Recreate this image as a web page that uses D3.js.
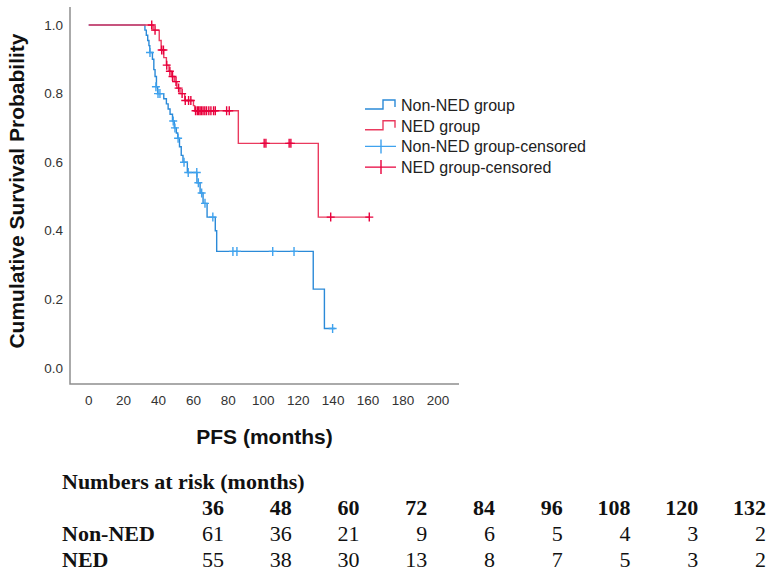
<!DOCTYPE html>
<html>
<head>
<meta charset="utf-8">
<script src="https://cdn.jsdelivr.net/npm/d3@7"></script>
<style>
  body { margin: 0; background: #fff; }
  svg { display: block; }
  .tick-label { font-family: "Liberation Sans", Arial, sans-serif; font-size: 13.5px; fill: #333; }
  .axis-title { font-family: "Liberation Sans", Arial, sans-serif; font-size: 21px; font-weight: bold; fill: #111; }
  .legend-text { font-family: "Liberation Sans", Arial, sans-serif; font-size: 16px; fill: #222; }
  .risk { font-family: "Liberation Serif", "Times New Roman", serif; font-size: 22px; fill: #111; }
  .risk-bold { font-weight: bold; }
</style>
</head>
<body>
<script>
// survival steps (time in months, survival after the drop)
var nonNedTimes = [0, 32.2, 33.0, 33.8, 34.5, 35.0, 36.5, 37.3, 38.0, 38.8, 39.5, 43.0, 44.5, 45.5, 46.6, 48.0, 49.0, 50.2, 51.0, 52.0, 53.0, 54.0, 56.5, 62.0, 63.8, 65.5, 67.8, 72.5, 73.3, 128.6, 135.0];
var nonNedSurv  = [1.0, 0.985, 0.97, 0.955, 0.94, 0.92, 0.90, 0.87, 0.85, 0.82, 0.80, 0.785, 0.77, 0.755, 0.74, 0.72, 0.70, 0.685, 0.67, 0.645, 0.62, 0.60, 0.57, 0.54, 0.51, 0.48, 0.44, 0.40, 0.34, 0.23, 0.115];
var nonNedEnd = 141;

var nedTimes = [0, 36.9, 40.4, 41.5, 43.0, 44.5, 46.0, 47.5, 49.0, 50.5, 52.3, 55.0, 60.0, 60.7, 85.7, 131.5];
var nedSurv  = [1.0, 0.985, 0.955, 0.927, 0.905, 0.883, 0.865, 0.85, 0.835, 0.816, 0.80, 0.78, 0.765, 0.75, 0.655, 0.44];
var nedEnd = 160.7;

// censored observations
var nonNedCensorTimes = [35.1, 38.5, 39.7, 40.8, 48.4, 49.4, 51.2, 54.6, 57.0, 61.9, 62.8, 64.7, 66.6, 71.1, 82.6, 84.9, 105.4, 117.6, 139.7];
var nonNedCensorSurv  = [0.92, 0.82, 0.80, 0.80, 0.72, 0.70, 0.67, 0.60, 0.57, 0.57, 0.54, 0.51, 0.48, 0.44, 0.34, 0.34, 0.34, 0.34, 0.115];

var nedCensorTimes = [36.1, 38.0, 41.8, 42.8, 44.7, 46.5, 48.0, 50.0, 51.5, 53.5, 55.3, 57.2, 58.5, 61.2, 62.2, 63.0, 63.8, 64.6, 65.5, 66.5, 67.5, 68.8, 70.0, 71.5, 72.5, 79.0, 80.5, 100.5, 101.5, 114.8, 115.8, 138.6, 160.7];
var nedCensorSurv  = [1.0, 0.985, 0.927, 0.927, 0.883, 0.865, 0.85, 0.835, 0.816, 0.80, 0.78, 0.78, 0.78, 0.75, 0.75, 0.75, 0.75, 0.75, 0.75, 0.75, 0.75, 0.75, 0.75, 0.75, 0.75, 0.75, 0.75, 0.655, 0.655, 0.655, 0.655, 0.44, 0.44];

var xTicks = [0, 20, 40, 60, 80, 100, 120, 140, 160, 180, 200];
var yTicks = [0.0, 0.2, 0.4, 0.6, 0.8, 1.0];

var legendLabels = ["Non-NED group", "NED group", "Non-NED group-censored", "NED group-censored"];

// numbers at risk table
var riskMonths = [36, 48, 60, 72, 84, 96, 108, 120, 132];
var riskNonNed = [61, 36, 21, 9, 6, 5, 4, 3, 2];
var riskNed    = [55, 38, 30, 13, 8, 7, 5, 3, 2];

(function (){

    var width = 774, height = 581;
    var blueLine = "#2b8ad8", blueCensor = "#3fa2ee",
        redLine = "#ea3a5e", redCensor = "#e8003c";

    var svg = d3.select("body")
        .append("svg")
        .attr("width", width)
        .attr("height", height);

    var x = d3.scaleLinear().domain([0, 200]).range([88.7, 437.9]);
    var y = d3.scaleLinear().domain([0, 1]).range([368, 25]);

    //axis lines (no tick marks in the original)
    svg.append("path")
        .attr("d", "M70,7 V384 H459")
        .attr("fill", "none")
        .attr("stroke", "#8e8e8e")
        .attr("stroke-width", 1.5);

    svg.selectAll(".ylab")
        .data(yTicks)
        .enter()
        .append("text")
        .attr("class", "tick-label")
        .attr("text-anchor", "end")
        .attr("x", 63)
        .attr("y", function(d){ return y(d) + 4.5; })
        .text(function(d){ return d.toFixed(1); });

    svg.selectAll(".xlab")
        .data(xTicks)
        .enter()
        .append("text")
        .attr("class", "tick-label")
        .attr("text-anchor", "middle")
        .attr("x", function(d){ return x(d); })
        .attr("y", 405)
        .text(function(d){ return d; });

    svg.append("text")
        .attr("class", "axis-title")
        .attr("text-anchor", "middle")
        .attr("transform", "translate(24,191) rotate(-90)")
        .text("Cumulative Survival Probability");

    svg.append("text")
        .attr("class", "axis-title")
        .attr("text-anchor", "middle")
        .attr("x", 264.5)
        .attr("y", 444)
        .text("PFS (months)");

    //step curves
    var line = d3.line()
        .x(function(d){ return x(d[0]); })
        .y(function(d){ return y(d[1]); })
        .curve(d3.curveStepAfter);

    function drawCurve(times, surv, end, color){
        var pts = times.map(function(t, i){ return [t, surv[i]]; });
        pts.push([end, surv[surv.length - 1]]);
        svg.append("path")
            .datum(pts)
            .attr("d", line)
            .attr("fill", "none")
            .attr("stroke", color)
            .attr("stroke-width", 1.4);
    }

    function drawCensors(times, surv, color){
        svg.append("g")
            .selectAll("path")
            .data(times.map(function(t, i){ return [t, surv[i]]; }))
            .enter()
            .append("path")
            .attr("d", function(d){
                var cx = x(d[0]), cy = y(d[1]);
                return "M" + (cx - 4) + "," + cy + "H" + (cx + 4) + "M" + cx + "," + (cy - 4.5) + "V" + (cy + 4.5);
            })
            .attr("fill", "none")
            .attr("stroke", color)
            .attr("stroke-width", 1.4);
    }

    drawCurve(nonNedTimes, nonNedSurv, nonNedEnd, blueLine);
    drawCurve(nedTimes, nedSurv, nedEnd, redLine);
    drawCensors(nonNedCensorTimes, nonNedCensorSurv, blueCensor);
    drawCensors(nedCensorTimes, nedCensorSurv, redCensor);

    //legend
    var legend = svg.append("g");
    var legendColors = [blueLine, redLine, blueCensor, redCensor];
    legendLabels.forEach(function(label, i){
        var cy = 105 + i * 20.7;
        if (i < 2) {
            legend.append("path")
                .attr("d", "M365," + (cy + 4) + "H383V" + (cy - 5) + "H395V" + (cy + 2))
                .attr("fill", "none")
                .attr("stroke", legendColors[i])
                .attr("stroke-width", 1.4);
        } else {
            legend.append("path")
                .attr("d", "M365," + cy + "H396M381," + (cy - 7) + "V" + (cy + 7))
                .attr("fill", "none")
                .attr("stroke", legendColors[i])
                .attr("stroke-width", 1.4);
        }
        legend.append("text")
            .attr("class", "legend-text")
            .attr("x", 401)
            .attr("y", cy + 6)
            .text(label);
    });

    //numbers at risk table
    var col = d3.scaleLinear().domain([36, 132]).range([224, 766]);

    svg.append("text")
        .attr("class", "risk risk-bold")
        .attr("x", 62)
        .attr("y", 489)
        .text("Numbers at risk (months)");

    svg.selectAll(".riskHead")
        .data(riskMonths)
        .enter()
        .append("text")
        .attr("class", "risk risk-bold")
        .attr("text-anchor", "end")
        .attr("x", function(d){ return col(d); })
        .attr("y", 515)
        .text(function(d){ return d; });

    var rows = [["Non-NED", riskNonNed, 541], ["NED", riskNed, 567]];
    rows.forEach(function(r){
        svg.append("text")
            .attr("class", "risk risk-bold")
            .attr("x", 62)
            .attr("y", r[2])
            .text(r[0]);
        svg.append("g")
            .selectAll("text")
            .data(r[1])
            .enter()
            .append("text")
            .attr("class", "risk")
            .attr("text-anchor", "end")
            .attr("x", function(d, i){ return col(riskMonths[i]); })
            .attr("y", r[2])
            .text(function(d){ return d; });
    });

})();
</script>
</body>
</html>
